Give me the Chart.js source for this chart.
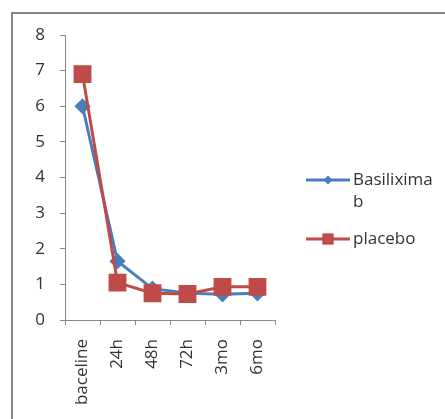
<!DOCTYPE html>
<html>
<head>
<meta charset="utf-8">
<script src="https://cdn.jsdelivr.net/npm/chart.js@4"></script>
<style>
  html, body { margin: 0; padding: 0; background: #fff; overflow: hidden; }
  canvas { display: block; }
</style>
</head>
<body>
<canvas id="line-chart" width="445" height="419"></canvas>
<script>
// data
let timePoints = ['baceline', '24h', '48h', '72h', '3mo', '6mo'];
let basiliximab = [6.0, 1.65, 0.88, 0.75, 0.72, 0.75];
let placebo = [6.9, 1.05, 0.75, 0.73, 0.93, 0.93];
let yMin = 0, yMax = 8, yStep = 1;

const fontFamily = '"Open Sans", sans-serif';
const textColor = '#333';
const axisColor = '#888';

// open frame: only left and top edges show in the crop
const frame = {
  id: 'frame',
  beforeDraw(chart) {
    const ctx = chart.ctx;
    ctx.save();
    ctx.strokeStyle = '#868686';
    ctx.lineWidth = 2;
    ctx.beginPath();
    ctx.moveTo(12, chart.height);
    ctx.lineTo(12, 13);
    ctx.lineTo(chart.width, 13);
    ctx.stroke();
    ctx.restore();
  }
};

// legend on the right, with the long label wrapped like the original
const sideLegend = {
  id: 'sideLegend',
  afterDraw(chart) {
    const ctx = chart.ctx;
    const x0 = 306, x1 = 350, textX = 353, maxW = 86, lineH = 22;
    let y = 180;
    ctx.save();
    ctx.font = '17px ' + fontFamily;
    ctx.textBaseline = 'middle';
    chart.data.datasets.forEach(ds => {
      ctx.strokeStyle = ds.borderColor;
      ctx.fillStyle = ds.borderColor;
      ctx.lineWidth = 3;
      ctx.beginPath();
      ctx.moveTo(x0, y);
      ctx.lineTo(x1, y);
      ctx.stroke();
      Chart.helpers.drawPoint(ctx, { pointStyle: ds.pointStyle, radius: ds.legendRadius, rotation: 0, borderWidth: 0 }, (x0 + x1) / 2, y);
      // wrap by characters
      let lines = [], cur = '';
      for (const ch of ds.label) {
        if (ctx.measureText(cur + ch).width > maxW && cur) { lines.push(cur); cur = ch; }
        else cur += ch;
      }
      lines.push(cur);
      ctx.fillStyle = textColor;
      lines.forEach((l, i) => ctx.fillText(l, textX, y + i * lineH));
      y += lines.length * lineH + 15;
    });
    ctx.restore();
  }
};

new Chart(document.getElementById('line-chart'), {
  type: 'line',
  data: {
    labels: timePoints,
    datasets: [
      {
        label: 'Basiliximab',
        data: basiliximab,
        borderColor: '#4a7ebb',
        backgroundColor: '#4a7ebb',
        borderWidth: 3,
        pointStyle: 'rectRot',
        pointRadius: 6,
        legendRadius: 4.5,
        order: 1
      },
      {
        label: 'placebo',
        data: placebo,
        borderColor: '#be4b48',
        backgroundColor: '#be4b48',
        borderWidth: 3,
        pointStyle: 'rect',
        pointRadius: 10.5,
        legendRadius: 8,
        order: 0
      }
    ]
  },
  options: {
    responsive: false,
    animation: false,
    layout: { padding: { left: 0, right: 170, top: 35, bottom: 0 } },
    plugins: {
      legend: { display: false },
      tooltip: { enabled: false }
    },
    scales: {
      x: {
        offset: true,
        grid: { offset: true, drawOnChartArea: false, tickLength: 5, color: axisColor },
        border: { color: axisColor, width: 1 },
        ticks: { minRotation: 90, maxRotation: 90, padding: 14, color: textColor, font: { family: fontFamily, size: 17 } },
        afterFit(scale) { scale.height = 99; }
      },
      y: {
        min: yMin,
        max: yMax,
        grid: { drawOnChartArea: false, tickLength: 5, color: axisColor },
        border: { color: axisColor, width: 1 },
        ticks: { stepSize: yStep, padding: 15, color: textColor, font: { family: fontFamily, size: 17 } },
        afterFit(scale) { scale.width = 65; }
      }
    }
  },
  plugins: [frame, sideLegend]
});
</script>
</body>
</html>
